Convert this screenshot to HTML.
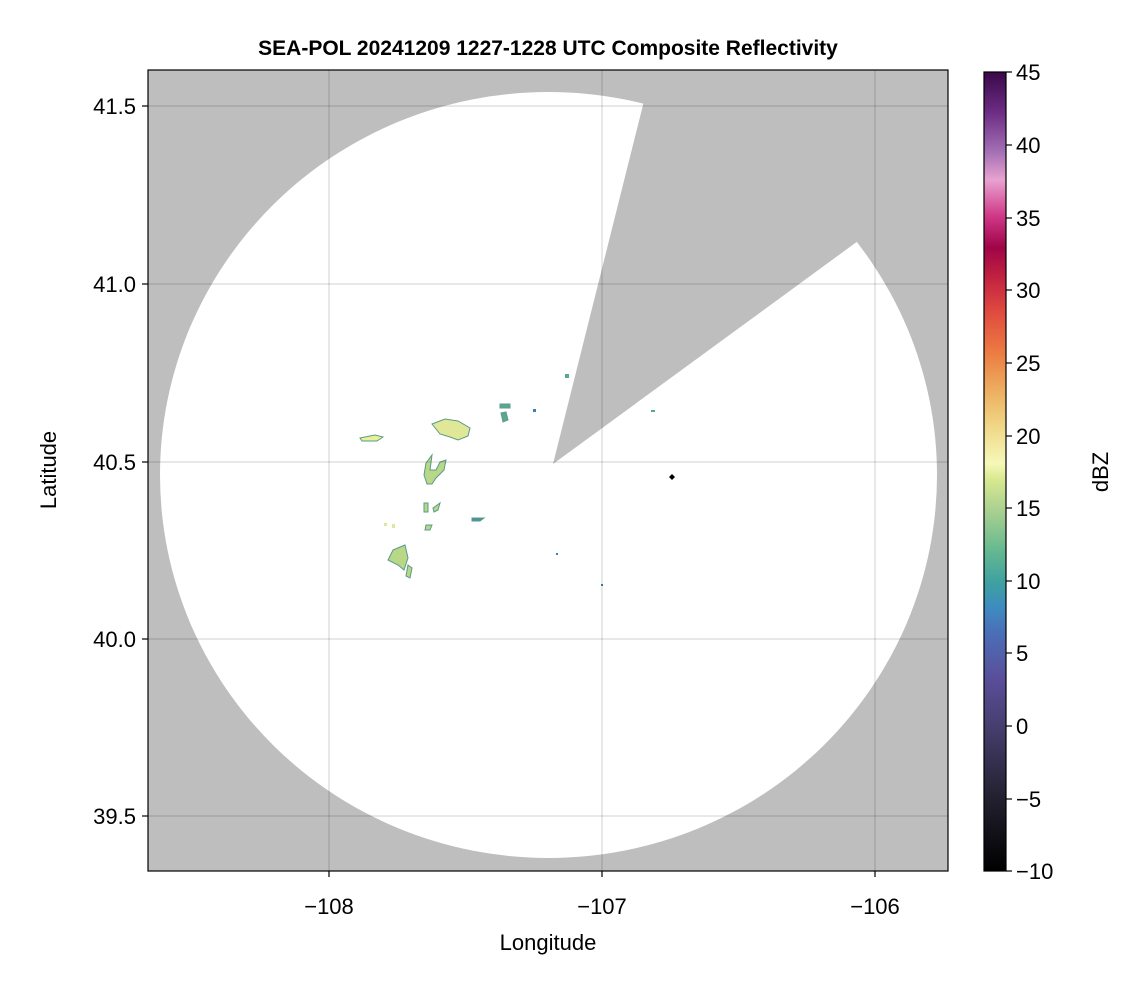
<!DOCTYPE html>
<html><head><style>body{margin:0;background:#fff}svg{display:block}text{font-family:"Liberation Sans",sans-serif}</style></head><body>
<svg width="1146" height="990" viewBox="0 0 1146 990">
<defs>
<clipPath id="pa"><rect x="148" y="70" width="800" height="801"/></clipPath>
<linearGradient id="cb" x1="0" y1="1" x2="0" y2="0">
<stop offset="0" stop-color="#000000"/>
<stop offset="0.09" stop-color="#22202e"/>
<stop offset="0.18" stop-color="#463e6e"/>
<stop offset="0.24" stop-color="#5a4e9a"/>
<stop offset="0.30" stop-color="#4a70b8"/>
<stop offset="0.33" stop-color="#3e8cc0"/>
<stop offset="0.36" stop-color="#3ea0a0"/>
<stop offset="0.40" stop-color="#64b890"/>
<stop offset="0.45" stop-color="#a8d090"/>
<stop offset="0.49" stop-color="#d8e890"/>
<stop offset="0.51" stop-color="#f6f8b8"/>
<stop offset="0.555" stop-color="#f0d888"/>
<stop offset="0.60" stop-color="#ecb060"/>
<stop offset="0.65" stop-color="#ec7a42"/>
<stop offset="0.70" stop-color="#e04a40"/>
<stop offset="0.745" stop-color="#c02040"/>
<stop offset="0.78" stop-color="#a00448"/>
<stop offset="0.82" stop-color="#d03888"/>
<stop offset="0.865" stop-color="#e8a2d0"/>
<stop offset="0.90" stop-color="#a470b4"/>
<stop offset="0.95" stop-color="#6c2c84"/>
<stop offset="1" stop-color="#3a0848"/>
</linearGradient>
</defs>
<g clip-path="url(#pa)">
<rect x="148" y="70" width="800" height="801" fill="#bebebe"/>
<ellipse cx="548.5" cy="475" rx="388.5" ry="383" fill="#fff"/>
<polygon points="553,464 645,97 700,-120 1100,-120 1100,140 858,241" fill="#bebebe"/>
<g fill="#b8d888" stroke="#5a9a8a" stroke-width="1">
<path d="M432,424 L445,419 L458,421 L470,428 L468,436 L458,440 L450,437 L440,434 Z" fill="#e0e898"/>
<path d="M360,438 L375,435 L383,437 L377,441 L362,441 Z" fill="#e8f098"/>
<path d="M426,463 L432,455 L430,470 L436,470 L440,462 L446,460 L444,470 L436,478 L432,484 L427,484 L424,475 Z"/>
<path d="M393,550 L405,545 L408,558 L404,570 L398,565 L388,560 Z"/>
<path d="M408,565 L412,568 L410,578 L406,576 Z"/>
<path d="M500,404 L510,404 L510,408 L500,408 Z" fill="#5aa890"/>
<path d="M501,413 L506,412 L508,420 L503,422 Z" fill="#5aa890"/>
<path d="M424,503 L428,503 L428,512 L424,512 Z"/>
<path d="M433,508 L440,503 L438,510 L434,512 Z"/>
<path d="M426,525 L432,525 L430,530 L425,530 Z"/>
<path d="M472,518 L484,518 L480,521 L472,521 Z" fill="#4a90a0"/>
</g>
<rect x="384" y="523" width="3" height="3" fill="#e0e898"/>
<rect x="392" y="524" width="3" height="4" fill="#e0e898"/>
<rect x="533" y="409" width="3" height="3" fill="#3a80b0"/>
<rect x="565" y="374" width="4" height="4" fill="#5aa890"/>
<rect x="556" y="553" width="2" height="2" fill="#3a80b0"/>
<rect x="601" y="584" width="2" height="2" fill="#3a80b0"/>
<rect x="651" y="410" width="4" height="2" fill="#5aa890"/>
<path d="M672,474 L675,477 L672,480 L669,477 Z" fill="#000"/>
<g stroke="#000" stroke-opacity="0.12" stroke-width="1.5">
<line x1="329" y1="70" x2="329" y2="871"/><line x1="602" y1="70" x2="602" y2="871"/><line x1="875" y1="70" x2="875" y2="871"/>
<line x1="148" y1="106" x2="948" y2="106"/><line x1="148" y1="284" x2="948" y2="284"/><line x1="148" y1="462" x2="948" y2="462"/><line x1="148" y1="639" x2="948" y2="639"/><line x1="148" y1="816" x2="948" y2="816"/>
</g>
</g>
<rect x="148" y="70" width="800" height="801" fill="none" stroke="#000" stroke-width="1.2"/>
<g stroke="#000" stroke-width="1.2">
<line x1="329" y1="871" x2="329" y2="877"/><line x1="602" y1="871" x2="602" y2="877"/><line x1="875" y1="871" x2="875" y2="877"/>
<line x1="142" y1="106" x2="148" y2="106"/><line x1="142" y1="284" x2="148" y2="284"/><line x1="142" y1="462" x2="148" y2="462"/><line x1="142" y1="639" x2="148" y2="639"/><line x1="142" y1="816" x2="148" y2="816"/>
</g>
<g font-size="22" fill="#000">
<text x="329" y="914" text-anchor="middle">−108</text>
<text x="602" y="914" text-anchor="middle">−107</text>
<text x="875" y="914" text-anchor="middle">−106</text>
<g text-anchor="end"><text x="136" y="114">41.5</text><text x="136" y="292">41.0</text><text x="136" y="470">40.5</text><text x="136" y="647">40.0</text><text x="136" y="824">39.5</text></g>
<text x="548" y="950" text-anchor="middle">Longitude</text>
<text transform="translate(56,470) rotate(-90)" text-anchor="middle">Latitude</text>
</g>
<text x="548" y="55" text-anchor="middle" font-size="21" font-weight="bold">SEA-POL 20241209 1227-1228 UTC Composite Reflectivity</text>
<rect x="984" y="72" width="22" height="799" fill="url(#cb)" stroke="#000" stroke-width="1.2"/>
<g stroke="#000" stroke-width="1.2">
<line x1="1006" y1="72" x2="1012" y2="72"/><line x1="1006" y1="145" x2="1012" y2="145"/><line x1="1006" y1="218" x2="1012" y2="218"/><line x1="1006" y1="290" x2="1012" y2="290"/><line x1="1006" y1="363" x2="1012" y2="363"/><line x1="1006" y1="436" x2="1012" y2="436"/><line x1="1006" y1="508" x2="1012" y2="508"/><line x1="1006" y1="581" x2="1012" y2="581"/><line x1="1006" y1="653" x2="1012" y2="653"/><line x1="1006" y1="726" x2="1012" y2="726"/><line x1="1006" y1="799" x2="1012" y2="799"/><line x1="1006" y1="871" x2="1012" y2="871"/>
</g>
<g font-size="22" fill="#000">
<text x="1016" y="80">45</text><text x="1016" y="153">40</text><text x="1016" y="226">35</text><text x="1016" y="298">30</text><text x="1016" y="371">25</text><text x="1016" y="444">20</text><text x="1016" y="516">15</text><text x="1016" y="589">10</text><text x="1016" y="661">5</text><text x="1016" y="734">0</text><text x="1016" y="807">−5</text><text x="1016" y="879">−10</text>
<text transform="translate(1108,472) rotate(-90)" text-anchor="middle">dBZ</text>
</g>
</svg>
</body></html>
